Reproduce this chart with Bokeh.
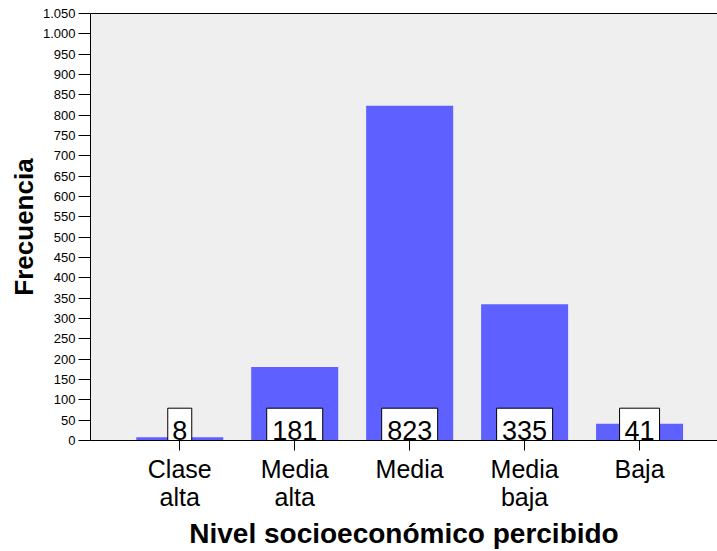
from bokeh.plotting import figure
from bokeh.models import Range1d, FixedTicker, LinearAxis, ColumnDataSource
from bokeh.core.properties import value
from bokeh.embed import file_html
from bokeh.resources import INLINE

# Data
categories = ["Clase alta", "Media alta", "Media", "Media baja", "Baja"]
tick_labels = ["Clase\nalta", "Media\nalta", "Media", "Media\nbaja", "Baja"]
frequencies = [8, 181, 823, 335, 41]
y_ticks = list(range(0, 1051, 50))

FONT = "Liberation Sans"
positions = list(range(len(categories)))
value_texts = [str(v) for v in frequencies]

src = ColumnDataSource(dict(
    x=positions,
    top=frequencies,
    base=[0] * len(frequencies),
    label=value_texts,
    box_w=[16 * len(t) + 8 for t in value_texts],
))

p = figure(width=717, height=551, output_backend="svg", toolbar_location=None,
           x_range=Range1d(-0.7765, 4.678), y_range=Range1d(0, 1050),
           min_border_left=90, min_border_right=0, min_border_top=13,
           min_border_bottom=111)
p.background_fill_color = "#EFEFEF"
p.border_fill_color = "white"
p.outline_line_color = None
p.xgrid.visible = False
p.ygrid.visible = False

p.vbar(x="x", top="top", width=0.757, source=src, fill_color="#5E60FF", line_color=None)
p.rect(x="x", y="base", width="box_w", height=64.6, width_units="screen",
       height_units="screen", source=src, fill_color="white", line_color="black",
       line_width=1)
p.text(x="x", y="base", text="label", source=src, text_align="center",
       text_baseline="alphabetic", y_offset=-10, text_font=value(FONT),
       text_font_size="27px", text_color="black")

# X axis
xa = p.xaxis[0]
xa.ticker = FixedTicker(ticks=positions)
xa.major_label_overrides = {i: lab for i, lab in zip(positions, tick_labels)}
xa.major_tick_out = 10
xa.major_tick_in = 0
xa.major_tick_line_color = "black"
xa.axis_line_color = "black"
xa.minor_tick_line_color = None
xa.major_label_text_font = FONT
xa.major_label_text_font_size = "25px"
xa.major_label_text_line_height = 1.0
xa.major_label_text_color = "black"
xa.major_label_standoff = 4
xa.axis_label = "Nivel socioeconómico percibido"
xa.axis_label_text_font = FONT
xa.axis_label_text_font_style = "bold"
xa.axis_label_text_font_size = "28px"
xa.axis_label_text_line_height = 1.0
xa.axis_label_text_color = "black"
xa.axis_label_standoff = 4

# Y axis
ya = p.yaxis[0]
ya.ticker = FixedTicker(ticks=y_ticks)
ya.major_label_overrides = {v: f"{v:,}".replace(",", ".") for v in y_ticks if v >= 1000}
ya.major_tick_out = 12
ya.major_tick_in = 0
ya.major_tick_line_color = "black"
ya.axis_line_color = "black"
ya.minor_tick_line_color = None
ya.major_label_text_font = FONT
ya.major_label_text_font_size = "13px"
ya.major_label_text_color = "black"
ya.major_label_standoff = 3
ya.axis_label = "Frecuencia"
ya.axis_label_text_font = FONT
ya.axis_label_text_font_style = "bold"
ya.axis_label_text_font_size = "26px"
ya.axis_label_text_color = "black"
ya.axis_label_standoff = 1

# Top border line
top = LinearAxis(ticker=FixedTicker(ticks=[]), major_tick_out=0, major_tick_in=0,
                 major_label_standoff=0, axis_line_color="black",
                 major_label_text_font_size="0px", minor_tick_line_color=None)
p.add_layout(top, "above")

open("out.html", "w").write(file_html(p, INLINE))
